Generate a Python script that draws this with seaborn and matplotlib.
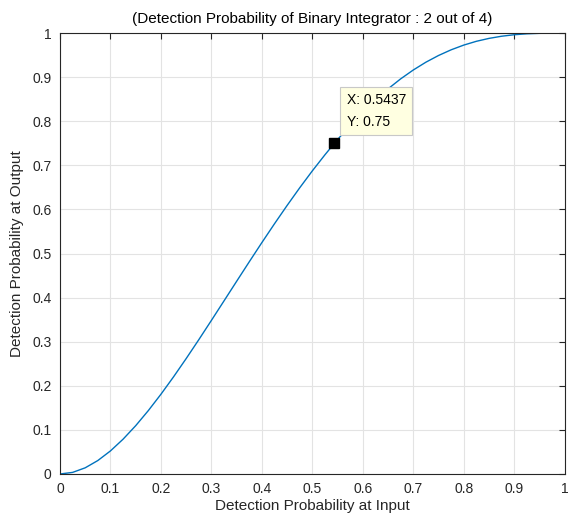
import matplotlib
matplotlib.use("Agg")
import matplotlib.pyplot as plt
import seaborn as sns
import pandas as pd

p_in = [0.0, 0.025, 0.05, 0.075, 0.1, 0.125, 0.15, 0.175, 0.2, 0.225, 0.25, 0.275, 0.3,
        0.325, 0.35, 0.375, 0.4, 0.425, 0.45, 0.475, 0.5, 0.525, 0.5437, 0.55, 0.575, 0.6,
        0.625, 0.65, 0.675, 0.7, 0.725, 0.75, 0.775, 0.8, 0.825, 0.85, 0.875, 0.9, 0.925,
        0.95, 0.975, 1.0]
p_out = [0.0, 0.0036, 0.014, 0.0305, 0.0523, 0.0789, 0.1095, 0.1437, 0.1808, 0.2203, 0.2617,
         0.3045, 0.3483, 0.3926, 0.437, 0.4812, 0.5248, 0.5675, 0.609, 0.6491, 0.6875, 0.724,
         0.75, 0.7585, 0.7908, 0.8208, 0.8484, 0.8735, 0.8962, 0.9163, 0.934, 0.9492, 0.9621,
         0.9728, 0.9814, 0.988, 0.9929, 0.9963, 0.9984, 0.9995, 0.9999, 1.0]
tip_x = 0.5437
tip_y = 0.75
ticks = [0, 0.1, 0.2, 0.3, 0.4, 0.5, 0.6, 0.7, 0.8, 0.9, 1]
tick_labels = ["0", "0.1", "0.2", "0.3", "0.4", "0.5", "0.6", "0.7", "0.8", "0.9", "1"]

sns.set_style("white")
plt.rcParams['font.family'] = ['Liberation Sans', 'DejaVu Sans']

df = pd.DataFrame({"x": p_in, "y": p_out})

fig = plt.figure(figsize=(5.69, 5.28), dpi=100)
ax = fig.add_axes([0.1054, 0.1023, 0.887, 0.835])
sns.lineplot(data=df, x="x", y="y", ax=ax, color="#0072BD", linewidth=1.0)

ax.set_xlim(0, 1)
ax.set_ylim(0, 1)
ax.set_xticks(ticks)
ax.set_yticks(ticks)
ax.set_xticklabels(tick_labels)
ax.set_yticklabels(tick_labels)
ax.grid(True, color="#e3e3e3", linewidth=0.8)
ax.set_axisbelow(True)
for s in ax.spines.values():
    s.set_color("#262626")
    s.set_linewidth(0.8)
    s.set_visible(True)
ax.tick_params(direction="in", length=4, width=0.8, color="#262626",
               labelsize=10, labelcolor="#262626", top=True, right=True, pad=6)
ax.set_xlabel("Detection Probability at Input", fontsize=11, color="#262626", labelpad=2)
ax.set_ylabel("Detection Probability at Output", fontsize=11, color="#262626", labelpad=6)
ax.set_title("(Detection Probability of Binary Integrator : 2 out of 4)", fontsize=11,
             color="black", pad=7)

ax.plot([tip_x], [tip_y], marker="s", markersize=7, color="black", linestyle="none", zorder=5)
ax.annotate(f"X: {tip_x}\nY: {tip_y}", xy=(tip_x, tip_y), xytext=(0.568, 0.79),
            textcoords="data", fontsize=10, color="black", linespacing=1.7,
            bbox=dict(boxstyle="square,pad=0.45", facecolor="#ffffe1", edgecolor="#c8c8c8",
                      linewidth=0.8), zorder=6)

fig.savefig("out.png", dpi=100)
